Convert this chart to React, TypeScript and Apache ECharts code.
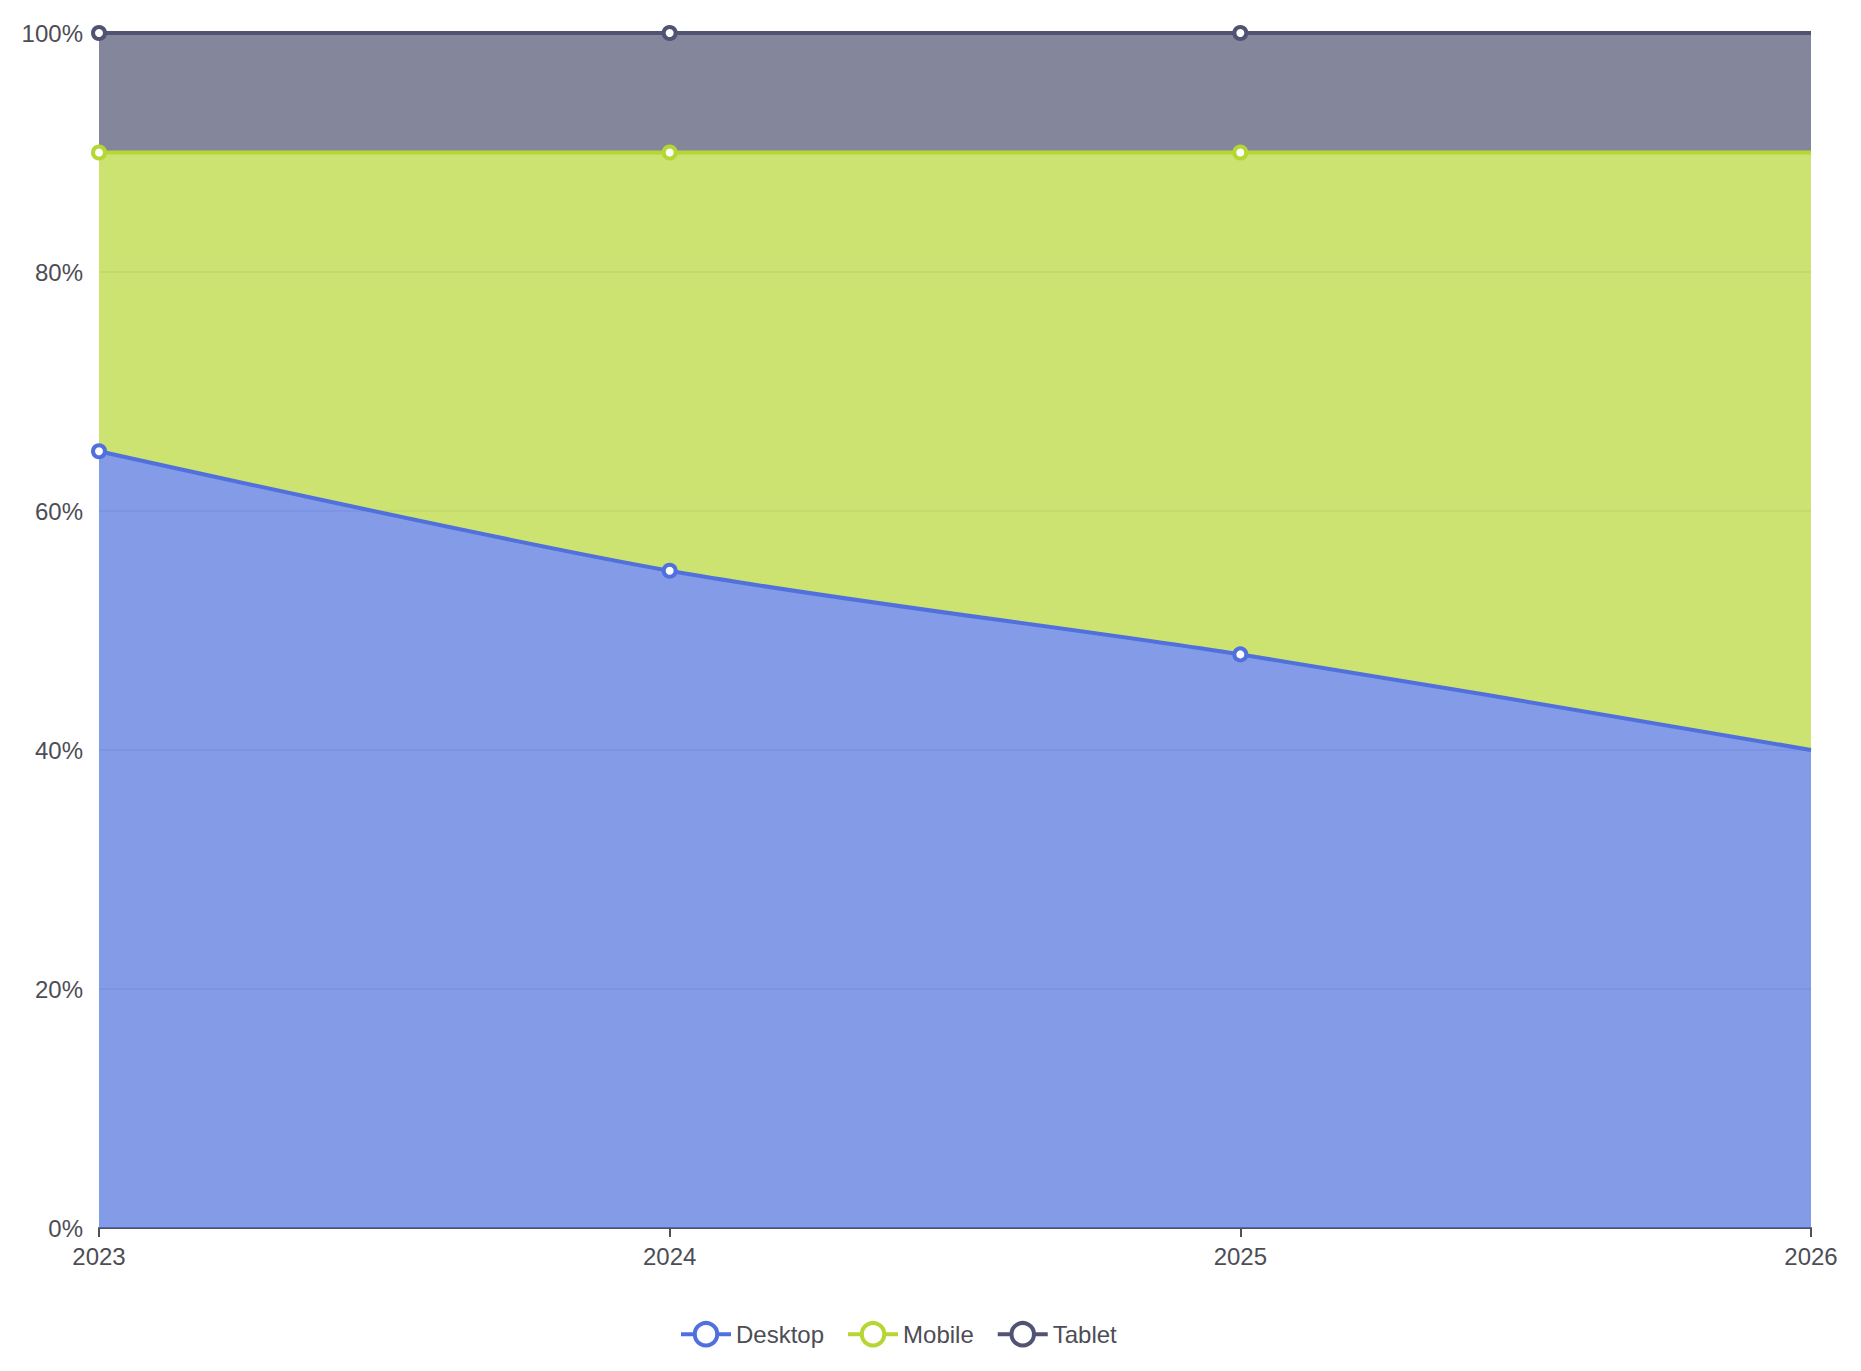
import React, { useEffect, useRef } from "react";
import * as echarts from "echarts";

const years = ["2023", "2024", "2025", "2026"];
const desktop = [65, 55, 48, 40];
const mobile = [25, 35, 42, 50];
const tablet = [10, 10, 10, 10];

const FONT = "'Liberation Sans', Arial, Helvetica, sans-serif";
const TEXT = "#4d4d55";
const colors = ["#5070dd", "#b6d634", "#505372"];

// the reference shows no marker on the last point
const withMarks = (vals: number[]) =>
  vals.map((v, i) => (i === vals.length - 1 ? { value: v, symbol: "none" } : v));

const makeSeries = (name: string, vals: number[], smooth: number | boolean, color: string) => ({
  name,
  type: "line",
  stack: "share",
  smooth,
  data: withMarks(vals),
  symbol: "circle",
  symbolSize: 12,
  showAllSymbol: true,
  color,
  lineStyle: { width: 4, color },
  itemStyle: { borderWidth: 4, borderColor: color, color: "#fff" },
  areaStyle: { opacity: 0.7, color },
  emphasis: { disabled: true },
});

const App = () => {
  const chartRef = useRef<HTMLDivElement>(null);

  useEffect(() => {
    if (!chartRef.current) return;
    const chart = echarts.init(chartRef.current, null, { renderer: "svg" });

    chart.setOption({
      animation: false,
      color: colors,
      textStyle: { fontFamily: FONT },
      grid: { left: 91, right: 42, top: 25, bottom: 135 },
      legend: {
        left: 666,
        top: 1308,
        itemWidth: 50,
        itemHeight: 28,
        itemGap: 22,
        lineStyle: { width: 4 },
        itemStyle: { borderWidth: 4 },
        textStyle: { fontSize: 24, color: TEXT, fontFamily: FONT },
        data: ["Desktop", "Mobile", "Tablet"],
      },
      xAxis: {
        type: "category",
        boundaryGap: false,
        data: years,
        axisLine: { lineStyle: { color: "#505058", width: 2 } },
        axisTick: { length: 9, lineStyle: { color: "#505058", width: 2 } },
        axisLabel: { fontSize: 24, color: TEXT, margin: 16, fontFamily: FONT },
      },
      yAxis: {
        type: "value",
        min: 0,
        max: 100,
        interval: 20,
        axisLine: { show: false },
        axisTick: { show: false },
        axisLabel: {
          fontSize: 24,
          color: TEXT,
          margin: 16,
          fontFamily: FONT,
          formatter: "{value}%",
        },
        splitLine: { lineStyle: { color: "#e0e6f1", width: 2 } },
      },
      series: [
        makeSeries("Desktop", desktop, 0.3, colors[0]),
        makeSeries("Mobile", mobile, false, colors[1]),
        makeSeries("Tablet", tablet, false, colors[2]),
      ],
    });

    return () => chart.dispose();
  }, []);

  return <div ref={chartRef} style={{ width: 1845, height: 1355 }} />;
};

export default App;
